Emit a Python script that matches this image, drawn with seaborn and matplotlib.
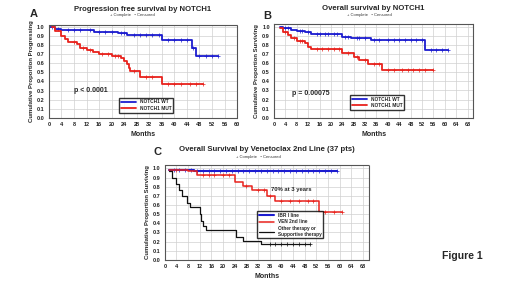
import numpy as np
import seaborn as sns
import matplotlib.pyplot as plt

# =============================================================================
# Data
# =============================================================================

# Panel A - progression free survival by NOTCH1
a_wt_t = [0, 2, 4, 12, 14.5, 22, 25, 36, 45.5, 47, 54]
a_wt_s = [1.0, 0.98, 0.97, 0.96, 0.94, 0.93, 0.91, 0.85, 0.77, 0.68, 0.68]
a_wt_c = [1, 3, 6, 8, 10, 13, 16, 18, 20, 23, 24, 27, 29, 31, 33, 35,
          38, 40, 42, 44, 46, 48, 50, 52, 54]
a_mut_t = [1, 2, 4, 5, 6, 9, 10, 12, 14, 16, 20, 23, 24, 25, 25.5, 26,
           29, 36, 49]
a_mut_s = [1.0, 0.95, 0.90, 0.87, 0.83, 0.81, 0.77, 0.75, 0.72, 0.70, 0.68,
           0.66, 0.63, 0.59, 0.55, 0.52, 0.45, 0.37, 0.37]
a_mut_c = [8, 11, 13, 17, 19, 21, 22, 27, 31, 33, 38, 40, 42, 45, 47, 49]

# Panel B - overall survival by NOTCH1
b_wt_t = [2, 3, 6, 8, 11, 13, 24, 27, 34, 53, 61]
b_wt_s = [1.0, 0.98, 0.96, 0.95, 0.94, 0.92, 0.89, 0.87, 0.85, 0.74, 0.74]
b_wt_c = [4, 5, 9, 10, 12, 15, 16, 18, 19, 21, 22, 25, 26, 29, 30, 32,
          35, 37, 40, 42, 44, 46, 48, 50, 52, 55, 57, 59, 61]
b_mut_t = [2, 3, 5, 6, 8, 11, 12, 13, 24, 28, 30, 33, 38, 56]
b_mut_s = [0.98, 0.94, 0.91, 0.88, 0.84, 0.82, 0.78, 0.75, 0.71, 0.67,
           0.63, 0.59, 0.52, 0.52]
b_mut_c = [4, 7, 9, 10, 15, 17, 19, 21, 23, 26, 29, 32, 35, 37, 40, 42,
           45, 47, 49, 51, 53, 56]

# Panel C - overall survival by venetoclax 2nd line
c_ibr_t = [1.5, 10, 59]
c_ibr_s = [0.98, 0.97, 0.97]
c_ibr_c = [3, 5, 7, 9, 11, 13, 15, 17, 19, 21, 23, 25, 27, 29, 31, 33,
           35, 37, 39, 41, 43, 45, 47, 49, 51, 53, 55, 57, 59]
c_ven_t = [1.5, 8, 11, 24, 27, 30, 35, 38, 53, 61]
c_ven_s = [0.98, 0.97, 0.93, 0.85, 0.81, 0.76, 0.70, 0.64, 0.52, 0.52]
c_ven_c = [4, 13, 15, 17, 20, 22, 28, 32, 34, 36, 40, 43, 46, 49, 51, 55,
           58, 61]
c_oth_t = [1.5, 2.5, 4, 5, 6, 7.5, 8.5, 12, 12.5, 13, 14, 24.5, 27, 33, 50]
c_oth_s = [0.97, 0.90, 0.83, 0.76, 0.70, 0.62, 0.58, 0.50, 0.42, 0.37,
           0.33, 0.25, 0.21, 0.17, 0.17]
c_oth_c = [36, 38, 40, 42, 44, 46, 48, 50]

BLUE = "#1c1ccf"
RED = "#e8221c"
BLACK = "#111111"


def surv_at(t, s, ct):
    idx = np.searchsorted(t, ct, side="right") - 1
    return np.asarray(s)[np.clip(idx, 0, len(s) - 1)]


def km(ax, t, s, c, color, label, lw=1.3):
    sns.lineplot(x=t, y=s, drawstyle="steps-post", color=color, lw=lw,
                 label=label, ax=ax, estimator=None, sort=False)
    sns.scatterplot(x=c, y=surv_at(t, s, c), marker="+", s=5,
                    color=color, linewidth=0.5, ax=ax, legend=False)


def style_ax(ax, xmax, xticks, ytop, ylabel):
    ax.set_xlim(0, xmax)
    ax.set_ylim(0, ytop)
    ax.set_xticks(xticks)
    ax.set_yticks(np.round(np.arange(0, 1.01, 0.1), 1))
    ax.set_yticklabels(["%.1f" % v for v in np.arange(0, 1.01, 0.1)])
    ax.grid(True, color="#d0d0d0", lw=0.5, ls="-")
    for sp in ax.spines.values():
        sp.set_color("#555555")
        sp.set_linestyle((0, (1, 1)))
        sp.set_linewidth(0.8)
    ax.tick_params(labelsize=4, length=1.5, width=0.5, pad=1.5,
                   colors="#222222")
    for lab in ax.get_xticklabels() + ax.get_yticklabels():
        lab.set_fontweight("bold")
    ax.set_xlabel("Months", fontsize=5, fontweight="bold", labelpad=3)
    ax.set_ylabel(ylabel, fontsize=4.3, fontweight="bold", labelpad=2)


sns.set_theme(style="whitegrid")
plt.rcParams["font.family"] = ["Liberation Sans", "DejaVu Sans"]

fig = plt.figure(figsize=(5.2, 2.84), dpi=100)
leg_kw = dict(frameon=True, fancybox=False, edgecolor="black",
              prop=dict(weight="bold", size=3.4), handlelength=3.2,
              borderpad=0.4, labelspacing=0.3)

# =============================================================================
# Panel A
# =============================================================================
axA = fig.add_axes([0.094, 0.585, 0.362, 0.327])
km(axA, a_wt_t, a_wt_s, a_wt_c, BLUE, "NOTCH1 WT")
km(axA, a_mut_t, a_mut_s, a_mut_c, RED, "NOTCH1 MUT")
style_ax(axA, 60, range(0, 61, 4), 1.02, "Cumulative Proportion Progressing")
axA.text(8, 0.3, "p < 0.0001", fontsize=5, fontweight="bold",
         va="center")
axA.legend(loc="lower left", bbox_to_anchor=(0.36, 0.03), **leg_kw)
axA.set_title("Progression free survival by NOTCH1", fontsize=5.6,
              fontweight="bold", pad=10)

# =============================================================================
# Panel B
# =============================================================================
axB = fig.add_axes([0.527, 0.585, 0.383, 0.331])
km(axB, b_wt_t, b_wt_s, b_wt_c, BLUE, "NOTCH1 WT")
km(axB, b_mut_t, b_mut_s, b_mut_c, RED, "NOTCH1 MUT")
style_ax(axB, 70, range(0, 69, 4), 1.03, "Cumulative Proportion Surviving")
axB.text(6.4, 0.27, "p = 0.00075", fontsize=5, fontweight="bold",
         va="center")
axB.legend(loc="lower left", bbox_to_anchor=(0.37, 0.06), **leg_kw)
axB.set_title("Overall survival by NOTCH1", fontsize=5.6,
              fontweight="bold", pad=10)

# =============================================================================
# Panel C
# =============================================================================
axC = fig.add_axes([0.317, 0.085, 0.392, 0.335])
km(axC, c_ibr_t, c_ibr_s, c_ibr_c, BLUE, "IBR I line", lw=1.5)
km(axC, c_ven_t, c_ven_s, c_ven_c, RED, "VEN 2nd line", lw=1.1)
km(axC, c_oth_t, c_oth_s, c_oth_c, BLACK,
   "Other therapy or\nSupportive therapy", lw=0.9)
style_ax(axC, 70, range(0, 69, 4), 1.04, "Cumulative Proportion Surviving")
axC.text(36.5, 0.77, "70% at 3 years", fontsize=4.2, fontweight="bold",
         va="center")
axC.legend(loc="lower left", bbox_to_anchor=(0.44, 0.2), **leg_kw)
axC.set_title("Overall Survival by Venetoclax 2nd Line (37 pts)",
              fontsize=5.6, fontweight="bold", pad=10)

# Complete / Censored keys and panel letters
for x, y in [(0.254, 0.947), (0.71, 0.947), (0.496, 0.447)]:
    fig.text(x, y, "+ Complete   \u2022 Censored", fontsize=3, ha="center",
             va="center", color="#333333")
for x, y, s in [(0.065, 0.952, "A"), (0.514, 0.945, "B"),
                (0.302, 0.465, "C")]:
    fig.text(x, y, s, fontsize=8, fontweight="bold", ha="center",
             va="center")
fig.text(0.89, 0.1, "Figure 1", fontsize=7.5, fontweight="bold",
         ha="center", va="center")

plt.savefig("out.png", dpi=100)
plt.close()
